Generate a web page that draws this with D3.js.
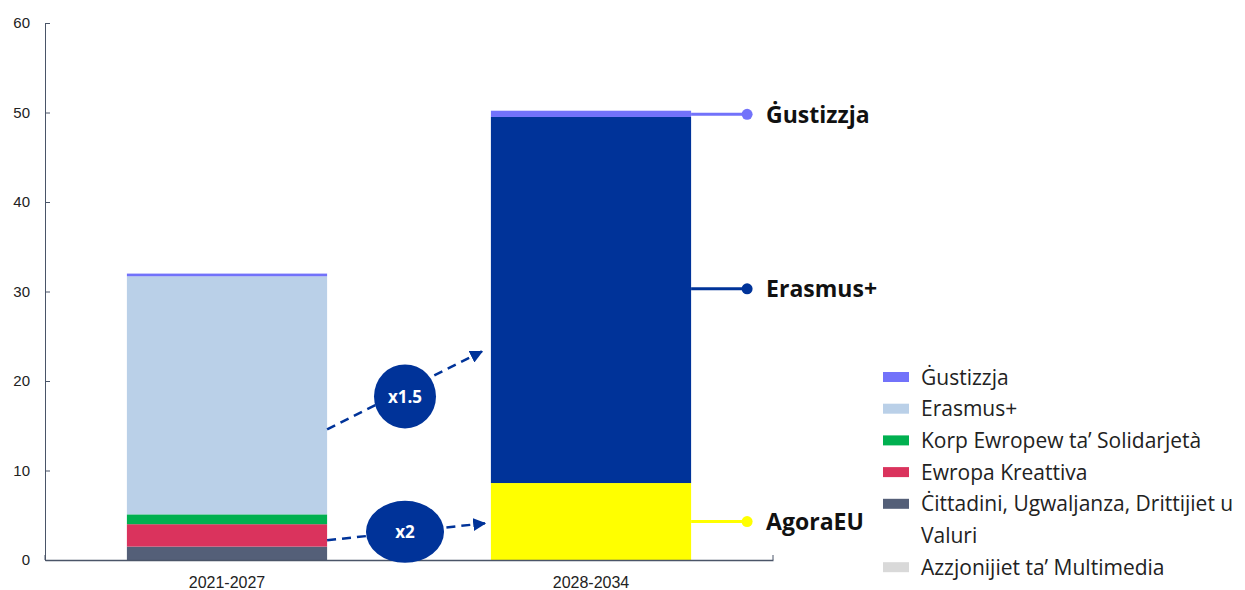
<!DOCTYPE html>
<html>
<head>
<meta charset="utf-8">
<script src="https://cdn.jsdelivr.net/npm/d3@7"></script>
<style>
  body { margin: 0; background: #fff; }
  svg { display: block; }
  .tick text { font-family: "Liberation Sans", Arial, sans-serif; fill: #222; }
</style>
</head>
<body>
<svg id="chart" width="1245" height="590"></svg>
<script>
// periods on the x axis
var periods = ["2021-2027", "2028-2034"];

// stack order, bottom to top
var series = ["AgoraEU", "Ċittadini, Ugwaljanza, Drittijiet u Valuri", "Ewropa Kreattiva",
  "Korp Ewropew ta’ Solidarjetà", "Azzjonijiet ta’ Multimedia", "Erasmus+", "Ġustizzja"];

// values per series, one per period (EUR bn)
var agoraValues     = [0, 8.6];
var citizensValues  = [1.5, 0];
var creativeValues  = [2.5, 0];
var solidarityValues = [1.1, 0];
var multimediaValues = [0, 0];
var erasmusValues   = [26.6, 40.9];
var justiceValues   = [0.3, 0.7];

var yTicks = [0, 10, 20, 30, 40, 50, 60];

// legend entries (top to bottom)
var legendItems = ["Ġustizzja", "Erasmus+", "Korp Ewropew ta’ Solidarjetà", "Ewropa Kreattiva",
  "Ċittadini, Ugwaljanza, Drittijiet u Valuri", "Azzjonijiet ta’ Multimedia"];

// callouts for the second bar: label, value where the label sits
var calloutLabels = ["Ġustizzja", "Erasmus+", "AgoraEU"];
var calloutValues = [49.8, 30.3, 4.3];

// growth annotations: label, start value (bar 1), end value (bar 2)
var growthLabels = ["x1.5", "x2"];
var growthFrom = [14.6, 2.2];
var growthTo = [23.3, 4.1];

var colors = {
  "AgoraEU": ["#ffff00", "#ffff00"],
  "Ċittadini, Ugwaljanza, Drittijiet u Valuri": ["#545f78", "#545f78"],
  "Ewropa Kreattiva": ["#da335d", "#da335d"],
  "Korp Ewropew ta’ Solidarjetà": ["#00b050", "#00b050"],
  "Azzjonijiet ta’ Multimedia": ["#d9d9d9", "#d9d9d9"],
  "Erasmus+": ["#bad0e8", "#003399"],
  "Ġustizzja": ["#7272fa", "#7272fa"]
};
var calloutColors = ["#7272fa", "#003399", "#ffff00"];
var navy = "#003399";
var axisColor = "#4a5568";

var valuesBySeries = [agoraValues, citizensValues, creativeValues, solidarityValues,
  multimediaValues, erasmusValues, justiceValues];

var rows = periods.map(function(p, i) {
  var r = { period: p, idx: i };
  series.forEach(function(s, k) { r[s] = valuesBySeries[k][i]; });
  return r;
});

var svg = d3.select("#chart");
var margin = { top: 23, left: 45 };
var width = 728, height = 537;

var g = svg.append("g").attr("transform", "translate(" + margin.left + "," + margin.top + ")");

var x = d3.scaleBand().domain(periods).range([0, width]).paddingInner(0.45).paddingOuter(0.225);
var y = d3.scaleLinear().domain([0, 60]).range([height, 0]);

// stacked bars
var stack = d3.stack().keys(series)(rows);
stack.forEach(function(layer) {
  g.selectAll(null)
    .data(layer.filter(function(d) { return d[1] - d[0] > 0; }))
    .enter().append("rect")
    .attr("x", function(d) { return x(d.data.period); })
    .attr("width", x.bandwidth())
    .attr("y", function(d) { return y(d[1]); })
    .attr("height", function(d) { return y(d[0]) - y(d[1]); })
    .attr("fill", function(d) { return colors[layer.key][d.data.idx]; });
});

// y axis
var yAxis = g.append("g")
  .call(d3.axisLeft(y).tickValues(yTicks).tickSize(-5).tickPadding(15));
yAxis.select(".domain").attr("stroke", axisColor);
yAxis.selectAll(".tick line").attr("stroke", axisColor);
yAxis.selectAll(".tick text").attr("font-size", 15);

// x axis
var xAxis = g.append("g")
  .attr("transform", "translate(0," + height + ")")
  .call(d3.axisBottom(x).tickSize(0).tickPadding(17));
xAxis.select(".domain").attr("stroke", axisColor).attr("stroke-width", 1.3);
xAxis.selectAll(".tick text").attr("font-size", 16);
// band boundary ticks
var bounds = [0, width / 2, width];
g.selectAll(".btick").data(bounds).enter().append("line")
  .attr("x1", function(d) { return d; }).attr("x2", function(d) { return d; })
  .attr("y1", height).attr("y2", height - 5)
  .attr("stroke", axisColor);

// callouts on second bar
var bar2Right = x(periods[1]) + x.bandwidth();
var dotX = bar2Right + 56;
calloutLabels.forEach(function(lbl, i) {
  var yy = y(calloutValues[i]);
  g.append("line").attr("x1", bar2Right).attr("x2", dotX).attr("y1", yy).attr("y2", yy)
    .attr("stroke", calloutColors[i]).attr("stroke-width", 3);
  g.append("circle").attr("cx", dotX).attr("cy", yy).attr("r", 5.5).attr("fill", calloutColors[i]);
  g.append("text").attr("x", dotX + 19).attr("y", yy).attr("dy", "0.36em")
    .attr("font-family", "'Open Sans', sans-serif").attr("font-weight", 700)
    .attr("font-size", 23).attr("fill", "#111").text(lbl);
});

// growth arrows
var defs = svg.append("defs");
defs.append("marker").attr("id", "arr").attr("viewBox", "0 0 10 10")
  .attr("refX", 9).attr("refY", 5)
  .attr("orient", "auto").attr("markerUnits", "userSpaceOnUse")
  .attr("markerWidth", 13).attr("markerHeight", 13)
  .append("path").attr("d", "M0,0 L10,5 L0,10 Z").attr("fill", navy);

var bar1Right = x(periods[0]) + x.bandwidth();
var bar2Left = x(periods[1]);
growthLabels.forEach(function(lbl, i) {
  var x1 = bar1Right, y1 = y(growthFrom[i]);
  var x2 = bar2Left - (i === 0 ? 9 : 6), y2 = y(growthTo[i]);
  g.append("line").attr("x1", x1).attr("y1", y1).attr("x2", x2).attr("y2", y2)
    .attr("stroke", navy).attr("stroke-width", 2.5).attr("stroke-dasharray", "9,6")
    .attr("marker-end", "url(#arr)");
  var cx = width / 2 - 4, cy = (y1 + y2) / 2 + (i === 0 ? 6 : 0);
  g.append("ellipse").attr("cx", cx).attr("cy", cy)
    .attr("rx", i === 0 ? 31 : 39).attr("ry", i === 0 ? 32 : 31).attr("fill", navy);
  g.append("text").attr("x", cx).attr("y", cy).attr("dy", "0.36em").attr("text-anchor", "middle")
    .attr("font-family", "'Open Sans', sans-serif").attr("font-weight", 700)
    .attr("font-size", 17).attr("fill", "#fff").text(lbl);
});

// legend
var legend = svg.append("g").attr("transform", "translate(883,377)");
var rowY = 0;
legendItems.forEach(function(lbl) {
  var c = colors[lbl][0];
  legend.append("rect").attr("x", 0).attr("y", rowY - 5).attr("width", 26).attr("height", 10).attr("fill", c);
  var parts = lbl === "Ċittadini, Ugwaljanza, Drittijiet u Valuri"
    ? ["Ċittadini, Ugwaljanza, Drittijiet u", "Valuri"] : [lbl];
  parts.forEach(function(pt, j) {
    legend.append("text").attr("x", 38).attr("y", rowY + j * 31.7).attr("dy", "0.36em")
      .attr("font-family", "'Open Sans', sans-serif").attr("font-size", 21).attr("fill", "#222").text(pt);
  });
  rowY += parts.length * 31.7;
});
</script>
</body>
</html>
